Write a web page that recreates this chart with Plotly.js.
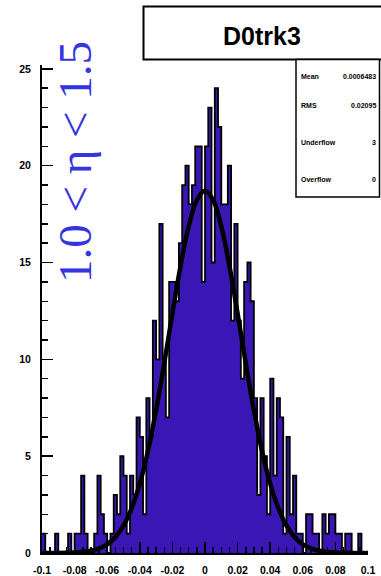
<!DOCTYPE html>
<html>
<head>
<meta charset="utf-8">
<script src="https://cdn.plot.ly/plotly-3.0.1.min.js"></script>
<style>
  html, body { margin: 0; padding: 0; background: #ffffff; }
  #chart { width: 381px; height: 576px; }
</style>
</head>
<body>
<div id="chart"></div>
<script>
// ---- data ----
const histTitle = "D0trk3";
const binStart = -0.1;
const binWidth = 0.002;
const counts = [
  1,0,0,0,1,0,0,0,1,0,
  1,1,4,1,0,0,1,4,2,1,
  0,1,3,2,5,4,1,4,3,7,
  6,2,8,6,12,10,17,10,7,14,
  14,13,16,19,20,18,19,21,21,14,
  21,23,15,24,22,18,18,20,12,17,
  12,9,14,15,13,8,3,8,5,2,
  9,4,8,7,1,6,2,4,1,1,
  0,2,2,1,1,0,2,1,2,2,
  1,1,0,1,1,0,0,1,0,0
];
const fitX = [-0.1,-0.095,-0.09,-0.085,-0.08,-0.075,-0.07,-0.065,-0.06,-0.055,-0.05,-0.045,-0.04,-0.035,-0.03,-0.025,-0.02,-0.015,-0.01,-0.005,
  0,0.005,0.01,0.015,0.02,0.025,0.03,0.035,0.04,0.045,0.05,0.055,0.06,0.065,0.07,0.075,0.08,0.085,0.09,0.095,0.1];
const fitY = [0.001,0.002,0.004,0.011,0.025,0.056,0.12,0.24,0.45,0.82,1.41,2.31,3.58,5.27,7.38,9.80,12.37,14.82,16.87,18.22,
  18.7,18.22,16.87,14.82,12.37,9.80,7.38,5.27,3.58,2.31,1.41,0.82,0.45,0.24,0.12,0.056,0.025,0.011,0.004,0.002,0.001];
const xTickVals = [-0.1,-0.08,-0.06,-0.04,-0.02,0,0.02,0.04,0.06,0.08,0.1];
const xTickText = ["-0.1","-0.08","-0.06","-0.04","-0.02","0","0.02","0.04","0.06","0.08","0.1"];
const yTickVals = [0,5,10,15,20,25];
const yTickText = ["0","5","10","15","20","25"];
const statNames = ["Mean","RMS","Underflow","Overflow"];
const statValues = ["0.0006483","0.02095","3","0"];
const etaLabel = "1.0 < \u03b7 < 1.5";

// ---- layout geometry (pixels) ----
const W = 381, H = 576;
const plotL = 42, plotR = 368, plotT = 65, plotB = 553;
const px = x => (x - plotL) / (plotR - plotL);
const py = y => (plotB - y) / (plotB - plotT);

const fillColor = '#3a16b4';

const stepY = counts.concat([counts[counts.length - 1]]);

const traces = [
  {
    type: 'bar',
    x0: binStart + binWidth / 2, dx: binWidth,
    y: counts,
    width: binWidth,
    marker: { color: fillColor, line: { width: 0 } },
    hoverinfo: 'skip'
  },
  {
    type: 'scatter', mode: 'lines',
    x0: binStart, dx: binWidth,
    y: stepY,
    line: { shape: 'hv', color: '#000000', width: 1.8 },
    hoverinfo: 'skip'
  },
  {
    type: 'scatter', mode: 'lines',
    x: fitX, y: fitY,
    line: { shape: 'spline', color: '#000000', width: 4.5 },
    hoverinfo: 'skip'
  }
];

const tickFont = { family: 'Liberation Sans, Arial, sans-serif', size: 10.5, color: '#000', weight: 'bold' };

const shapes = [
  // title box
  { type: 'rect', xref: 'paper', yref: 'paper', x0: px(143.5), x1: px(400), y0: py(59.5), y1: py(6.5),
    line: { color: '#000', width: 2 }, fillcolor: '#ffffff', layer: 'above' },
  // stats box
  { type: 'rect', xref: 'paper', yref: 'paper', x0: px(296), x1: px(379.5), y0: py(197), y1: py(59.5),
    line: { color: '#000', width: 1.5 }, fillcolor: '#ffffff', layer: 'above' }
];

const statY = [76, 106, 142, 180];
const annotations = [
  { xref: 'paper', yref: 'paper', x: px(262), y: py(36), text: histTitle, showarrow: false,
    xanchor: 'center', yanchor: 'middle',
    font: { family: 'Liberation Sans, Arial, sans-serif', size: 25, color: '#000', weight: 'bold' } },
  { xref: 'paper', yref: 'paper', x: px(75), y: py(162), text: etaLabel, showarrow: false,
    textangle: -90, xanchor: 'center', yanchor: 'middle',
    font: { family: 'Liberation Serif, Times New Roman, serif', size: 47, color: '#3434e0' } }
];
statNames.forEach((n, i) => {
  annotations.push({ xref: 'paper', yref: 'paper', x: px(298.5), y: py(statY[i]), text: n, showarrow: false,
    xanchor: 'left', yanchor: 'middle',
    font: { family: 'Liberation Sans, Arial, sans-serif', size: 7, color: '#000', weight: 'bold' } });
  annotations.push({ xref: 'paper', yref: 'paper', x: px(378), y: py(statY[i]), text: statValues[i], showarrow: false,
    xanchor: 'right', yanchor: 'middle',
    font: { family: 'Liberation Sans, Arial, sans-serif', size: 7, color: '#000', weight: 'bold' } });
});

const layout = {
  width: W, height: H,
  margin: { l: plotL, r: W - plotR, t: plotT, b: H - plotB, pad: 0 },
  paper_bgcolor: '#ffffff', plot_bgcolor: '#ffffff',
  showlegend: false,
  bargap: 0,
  xaxis: {
    range: [-0.1, 0.1], showgrid: false, zeroline: false,
    showline: true, linecolor: '#000', linewidth: 2,
    ticks: 'inside', ticklen: 11, tickwidth: 1.5, tickcolor: '#000',
    tickmode: 'array', tickvals: xTickVals, ticktext: xTickText,
    tickfont: tickFont, ticklabelstandoff: 6,
    minor: { ticks: 'inside', ticklen: 6, tickwidth: 1.5, tickcolor: '#000', dtick: 0.005, tick0: -0.1, showgrid: false }
  },
  yaxis: {
    range: [0, 25.2], showgrid: false, zeroline: false,
    showline: true, linecolor: '#000', linewidth: 2,
    ticks: 'inside', ticklen: 11, tickwidth: 1.5, tickcolor: '#000',
    tickmode: 'array', tickvals: yTickVals, ticktext: yTickText,
    tickfont: tickFont, ticklabelstandoff: 7,
    minor: { ticks: 'inside', ticklen: 6, tickwidth: 1.5, tickcolor: '#000', dtick: 1, tick0: 0, showgrid: false }
  },
  shapes: shapes,
  annotations: annotations
};

Plotly.newPlot('chart', traces, layout, { staticPlot: true, displayModeBar: false });
</script>
</body>
</html>
